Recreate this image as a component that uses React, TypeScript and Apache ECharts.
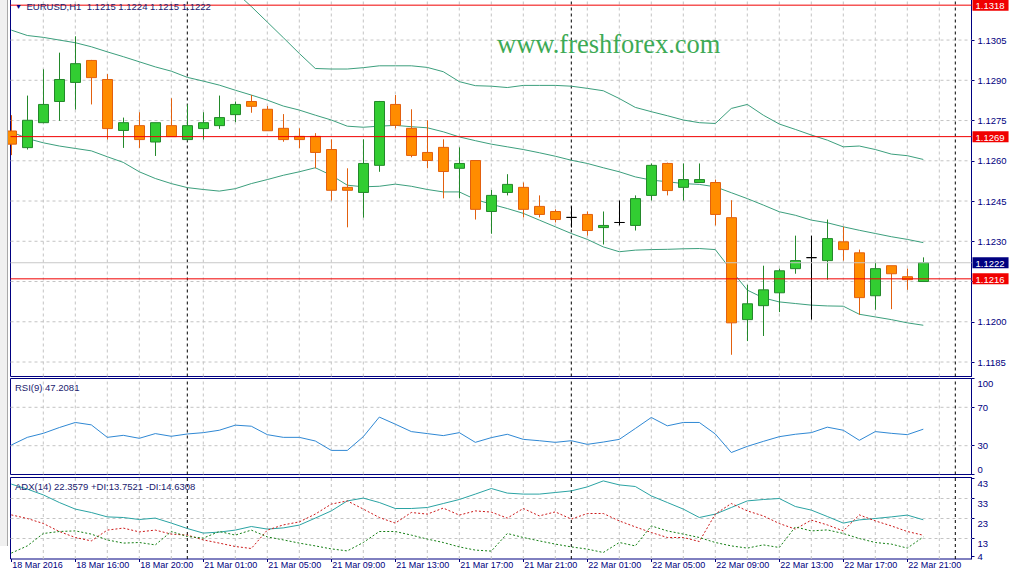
import React, { useEffect, useRef } from "react";
import * as echarts from "echarts";

// ---------- data ----------
const symbolName = "EURUSD,H1";

const timeTickIndex = [0, 4, 8, 12, 16, 20, 24, 28, 32, 36, 40, 44, 48, 52, 56];
const timeTickLabels = [
  "18 Mar 2016", "18 Mar 16:00", "18 Mar 20:00", "21 Mar 01:00", "21 Mar 05:00",
  "21 Mar 09:00", "21 Mar 13:00", "21 Mar 17:00", "21 Mar 21:00", "22 Mar 01:00",
  "22 Mar 05:00", "22 Mar 09:00", "22 Mar 13:00", "22 Mar 17:00", "22 Mar 21:00",
];
const gridColumns = [2, 4, 6, 8, 10, 12, 14, 16, 18, 20, 22, 24, 26, 28, 30, 32, 34, 36, 38, 40, 42, 44, 46, 48, 50, 52, 54, 56, 58];
const daySeparators = [11, 35, 59];

const priceTicks = [1.1185, 1.12, 1.1215, 1.123, 1.1245, 1.126, 1.1275, 1.129, 1.1305];
// 1.1215 is hidden under the 1.1216 level box in the reference
const priceTickLabels = [1.1185, 1.12, 1.123, 1.1245, 1.126, 1.1275, 1.129, 1.1305];
const levelLines = [1.1318, 1.1269, 1.1216];
const bidPrice = 1.1222;
const rsiTicks = [0, 30, 70, 100];
const rsiLevels = [30, 70];
const adxTicks = [4, 13, 23, 33, 43];
const adxLevels = [13, 23, 33];

const open = [
  1.12711, 1.12649, 1.12742, 1.12821, 1.12892, 1.12974, 1.12903, 1.12713, 1.12731, 1.12670,
  1.12731, 1.12679, 1.12720, 1.12731, 1.12772, 1.12821, 1.12792, 1.12721, 1.12691, 1.12691,
  1.12642, 1.12501, 1.12482, 1.12583, 1.12810, 1.12721, 1.12631, 1.12650, 1.12572, 1.12601,
  1.12411, 1.12482, 1.12501, 1.12430, 1.12411, 1.12389, 1.12400, 1.12351, 1.12370, 1.12359,
  1.12471, 1.12590, 1.12501, 1.12519, 1.12519, 1.12388, 1.12008, 1.12060, 1.12108, 1.12198,
  1.12239, 1.12228, 1.12298, 1.12257, 1.12097, 1.12209, 1.12168, 1.1215,
];
const high = [
  1.12770, 1.12843, 1.12941, 1.13003, 1.13064, 1.12976, 1.12923, 1.12761, 1.12781, 1.12742,
  1.12833, 1.12810, 1.12781, 1.12843, 1.12821, 1.12845, 1.12804, 1.12774, 1.12721, 1.12703,
  1.12680, 1.12572, 1.12680, 1.12823, 1.12845, 1.12792, 1.12751, 1.12680, 1.12650, 1.12601,
  1.12491, 1.12550, 1.12519, 1.12471, 1.12419, 1.12430, 1.12411, 1.12411, 1.12452, 1.12471,
  1.12590, 1.12593, 1.12590, 1.12590, 1.12530, 1.12453, 1.12138, 1.12209, 1.12198, 1.12321,
  1.12321, 1.12381, 1.12354, 1.12269, 1.12220, 1.12209, 1.12198, 1.1224,
];
const low = [
  1.12621, 1.12642, 1.12740, 1.12749, 1.12791, 1.12810, 1.12679, 1.12648, 1.12648, 1.12618,
  1.12690, 1.12675, 1.12679, 1.12719, 1.12744, 1.12779, 1.12712, 1.12671, 1.12647, 1.12572,
  1.12452, 1.12352, 1.12388, 1.12559, 1.12721, 1.12613, 1.12572, 1.12460, 1.12460, 1.12381,
  1.12328, 1.12471, 1.12389, 1.12389, 1.12370, 1.12351, 1.12321, 1.12288, 1.12359, 1.12340,
  1.12452, 1.12471, 1.12452, 1.12519, 1.12359, 1.11877, 1.11928, 1.11947, 1.12036, 1.12179,
  1.12008, 1.12157, 1.12228, 1.12026, 1.12045, 1.12047, 1.12119, 1.1215,
];
const close = [
  1.12662, 1.12751, 1.12810, 1.12903, 1.12962, 1.12910, 1.12720, 1.12742, 1.12679, 1.12742,
  1.12690, 1.12731, 1.12742, 1.12761, 1.12810, 1.12803, 1.12712, 1.12679, 1.12679, 1.12631,
  1.12490, 1.12490, 1.12590, 1.12821, 1.12732, 1.12620, 1.12601, 1.12560, 1.12590, 1.12419,
  1.12471, 1.12512, 1.12419, 1.12400, 1.12381, 1.12389, 1.12340, 1.12359, 1.12370, 1.12459,
  1.12583, 1.12489, 1.12530, 1.12530, 1.12400, 1.11996, 1.12067, 1.12119, 1.12190, 1.12228,
  1.12239, 1.12310, 1.12269, 1.12090, 1.12198, 1.12179, 1.12157, 1.1222,
];

const bbUpper = [
  1.13466, 1.13451, 1.13453, 1.13445, 1.13434, 1.13413, 1.13397, 1.13382, 1.13379, 1.13366,
  1.13353, 1.13322, 1.13301, 1.13277, 1.13230, 1.13175, 1.13117, 1.13059, 1.13000, 1.12944,
  1.12942, 1.12942, 1.12947, 1.12954, 1.12954, 1.12954, 1.12948, 1.12932, 1.12895, 1.12880,
  1.12878, 1.12873, 1.12881, 1.12881, 1.12881, 1.12878, 1.12870, 1.12861, 1.12832, 1.12799,
  1.12783, 1.12768, 1.12752, 1.12742, 1.12739, 1.12795, 1.12810, 1.12770, 1.12737, 1.12717,
  1.12696, 1.12677, 1.12652, 1.12655, 1.12642, 1.12625, 1.12619, 1.12605,
];
const bbMiddle = [
  1.13087, 1.13067, 1.13060, 1.13050, 1.13040, 1.13025, 1.13006, 1.12988, 1.12969, 1.12950,
  1.12934, 1.12911, 1.12897, 1.12882, 1.12863, 1.12845, 1.12826, 1.12804, 1.12789, 1.12770,
  1.12752, 1.12729, 1.12725, 1.12729, 1.12732, 1.12727, 1.12723, 1.12708, 1.12689, 1.12675,
  1.12662, 1.12652, 1.12642, 1.12630, 1.12617, 1.12602, 1.12590, 1.12574, 1.12559, 1.12540,
  1.12528, 1.12522, 1.12515, 1.12512, 1.12503, 1.12481, 1.12459, 1.12435, 1.12410, 1.12397,
  1.12379, 1.12369, 1.12354, 1.12341, 1.12329, 1.12317, 1.12307, 1.12295,
];
const bbLower = [
  1.12708, 1.12683, 1.12667, 1.12655, 1.12646, 1.12637, 1.12615, 1.12594, 1.12559, 1.12534,
  1.12515, 1.12500, 1.12493, 1.12487, 1.12496, 1.12515, 1.12530, 1.12546, 1.12559, 1.12574,
  1.12546, 1.12509, 1.12503, 1.12505, 1.12513, 1.12505, 1.12493, 1.12484, 1.12484, 1.12456,
  1.12438, 1.12422, 1.12404, 1.12379, 1.12354, 1.12329, 1.12307, 1.12279, 1.12261, 1.12267,
  1.12269, 1.12270, 1.12272, 1.12273, 1.12269, 1.12192, 1.12118, 1.12089, 1.12074, 1.12068,
  1.12062, 1.12059, 1.12058, 1.12028, 1.12018, 1.12008, 1.11996, 1.11987,
];

const rsi = [
  30.7, 38.7, 42.9, 48.9, 54.2, 51.7, 38.7, 40.8, 37.7, 42.6,
  39.8, 42.2, 43.6, 46.1, 51.4, 50.3, 41.5, 38.7, 38.7, 34.9,
  25.1, 25.1, 39.4, 59.8, 52.4, 44.7, 42.6, 40.5, 43.6, 33.5,
  38.4, 41.9, 36.6, 35.2, 33.5, 35.2, 31.4, 33.8, 36.6, 47.9,
  59.4, 50.7, 54.2, 54.2, 42.2, 22.9, 29.3, 34.5, 39.4, 41.9,
  43.6, 49.3, 46.1, 35.6, 44.7, 42.9, 41.5, 47.2081,
];
const adx = [
  40.2, 37.7, 34.8, 31.0, 27.7, 26.0, 23.8, 23.5, 22.5, 23.2,
  20.7, 18.0, 15.7, 16.2, 17.2, 19.0, 17.7, 18.3, 19.7, 23.2,
  26.8, 31.8, 33.2, 31.0, 28.0, 28.0, 28.5, 30.5, 32.5, 35.2,
  38.0, 35.7, 35.2, 35.2, 36.0, 36.8, 38.8, 41.8, 39.8, 39.0,
  34.3, 31.0, 27.7, 23.5, 25.2, 28.5, 31.8, 32.5, 33.0, 29.0,
  27.2, 24.0, 20.7, 22.3, 23.0, 23.8, 24.7, 22.3579,
];
const plusDI = [
  5.7, 9.3, 15.5, 16.5, 16.8, 15.2, 12.3, 10.7, 11.0, 9.8,
  16.5, 14.0, 13.2, 16.5, 14.7, 17.2, 13.8, 12.3, 10.7, 9.3,
  7.8, 6.8, 11.0, 16.5, 16.5, 14.7, 12.7, 11.0, 8.8, 7.2,
  6.7, 15.5, 13.5, 11.8, 10.2, 8.8, 7.7, 6.0, 11.0, 9.3,
  19.3, 16.8, 15.2, 13.5, 11.0, 9.3, 8.2, 9.8, 8.5, 18.8,
  16.8, 17.3, 15.5, 13.0, 11.0, 10.2, 8.2, 13.7521,
];
const minusDI = [
  24.8, 23.0, 20.5, 16.5, 13.5, 11.8, 17.2, 18.2, 16.3, 17.2,
  15.2, 14.7, 12.3, 10.7, 9.0, 8.0, 17.2, 19.8, 21.3, 25.2,
  30.2, 31.8, 27.7, 23.5, 20.7, 26.0, 25.2, 28.2, 24.7, 26.8,
  26.2, 23.2, 28.0, 24.3, 26.3, 22.7, 25.5, 25.5, 21.8, 18.8,
  16.0, 13.5, 13.5, 11.5, 25.2, 30.5, 26.8, 24.3, 20.5, 17.7,
  22.2, 19.8, 16.8, 24.8, 21.8, 19.3, 16.5, 14.6308,
];

// ---------- layout / styles ----------
const X_MIN = -0.05;
const X_MAX = 60.0125;
const P_MIN = 1.11796;
const P_MAX = 1.13203;
const RSI_MIN = 0;
const RSI_MAX = 100;
const ADX_MIN = 2.75;
const ADX_MAX = 43.5;

const NAVY = "#000080";
const RED = "#f00000";
const GRID_GRAY = "#c4c4c4";
const FONT = '"Liberation Sans", Arial, sans-serif';
const FS = 9.5;

function hSeg(vals: number[]) {
  const out: any[] = [];
  vals.forEach((v) => {
    out.push([X_MIN, v], [X_MAX, v], [X_MAX, "-"]);
  });
  return out;
}
function vSeg(xs: number[], y0: number, y1: number) {
  const out: any[] = [];
  xs.forEach((x) => {
    out.push([x, y0], [x, y1], [x, "-"]);
  });
  return out;
}

function segSeries(k: number, data: any[], color: string, z: number, type: any = [3, 3]) {
  return {
    type: "line",
    xAxisIndex: k,
    yAxisIndex: k,
    data,
    symbol: "none",
    showSymbol: false,
    silent: true,
    connectNulls: false,
    z,
    lineStyle: { color, width: 1, type },
    emphasis: { disabled: true },
  };
}

function gridLayer(k: number, yMin: number, yMax: number, levels: number[]) {
  return [
    segSeries(k, [...hSeg(levels), ...vSeg(gridColumns, yMin, yMax)], GRID_GRAY, 1),
    segSeries(k, vSeg(daySeparators, yMin, yMax), "#000000", 1),
  ];
}

function lineSeries(k: number, arr: number[], color: string, type: any, z = 2) {
  return {
    type: "line",
    xAxisIndex: k,
    yAxisIndex: k,
    data: arr.map((v, i) => [i, v]),
    symbol: "none",
    showSymbol: false,
    silent: true,
    z,
    lineStyle: { color, width: 1, type },
    emphasis: { disabled: true },
  };
}

function buildOption() {
  const last = open.length - 1;
  const header = `${symbolName}  ${open[last].toFixed(4)} ${high[last].toFixed(4)} ${low[last].toFixed(4)} ${close[last].toFixed(4)}`;
  const rsiText = `RSI(9) ${rsi[last].toFixed(4)}`;
  const adxText = `ADX(14) ${adx[last].toFixed(4)} +DI:${plusDI[last].toFixed(4)} -DI:${minusDI[last].toFixed(4)}`;

  const axisFont = { fontFamily: FONT, fontSize: FS, color: NAVY };
  const gridBase = {
    left: 10.5,
    width: 961,
    show: true,
    borderColor: NAVY,
    borderWidth: 1,
    containLabel: false,
    outerBoundsMode: "none",
  };

  const yBase = (
    k: number,
    min: number,
    max: number,
    ticks: number[],
    labels: number[],
    fmt: (v: number) => string,
    extraLabel: any
  ) => ({
    type: "value",
    gridIndex: k,
    position: "right",
    min,
    max,
    axisLine: { show: true, onZero: false, lineStyle: { color: NAVY } },
    axisTick: { show: true, customValues: ticks, length: 3, lineStyle: { color: NAVY } },
    axisLabel: {
      customValues: labels,
      formatter: fmt,
      margin: 6,
      hideOverlap: false,
      showMinLabel: true,
      showMaxLabel: true,
      ...axisFont,
      ...extraLabel,
    },
    splitLine: { show: false },
  });

  const boxStyle = (bg: string) => ({
    backgroundColor: bg,
    color: "#ffffff",
    fontFamily: FONT,
    fontSize: FS,
    lineHeight: 10,
    padding: [1, 4, 0, 3],
  });

  // second price axis carrying the coloured boxes of the level lines and the bid
  const boxAxis = {
    type: "value",
    gridIndex: 0,
    position: "right",
    min: P_MIN,
    max: P_MAX,
    axisLine: { show: false, onZero: false },
    axisTick: { show: false },
    splitLine: { show: false },
    axisLabel: {
      customValues: [...levelLines, bidPrice],
      hideOverlap: false,
      showMinLabel: true,
      showMaxLabel: true,
      margin: 1,
      formatter: (v: number) =>
        Math.abs(v - bidPrice) < 1e-7 ? `{b|${v.toFixed(4)}}` : `{r|${v.toFixed(4)}}`,
      rich: { r: boxStyle(RED), b: boxStyle(NAVY) },
    },
  };

  return {
    animation: false,
    backgroundColor: "#ffffff",
    grid: [
      { ...gridBase, top: -1, height: 377.5 },
      { ...gridBase, top: 378.5, height: 96 },
      { ...gridBase, top: 477.5, height: 81.5 },
    ],
    xAxis: [0, 1, 2].map((k) => ({
      type: "value",
      gridIndex: k,
      min: X_MIN,
      max: X_MAX,
      axisLine: { show: false, onZero: false },
      splitLine: { show: false },
      axisTick:
        k === 2
          ? { show: true, customValues: timeTickIndex, length: 3, lineStyle: { color: NAVY } }
          : { show: false },
      axisLabel:
        k === 2
          ? {
              show: true,
              customValues: timeTickIndex,
              formatter: (v: number) => {
                const j = timeTickIndex.indexOf(Math.round(v));
                return j >= 0 ? timeTickLabels[j] : "";
              },
              align: "left",
              margin: 1,
              padding: [0, 0, 0, 1],
              hideOverlap: false,
              fontFamily: FONT,
              fontSize: 9,
              lineHeight: 10,
              color: NAVY,
            }
          : { show: false },
    })),
    yAxis: [
      yBase(0, P_MIN, P_MAX, priceTicks, priceTickLabels, (v) => v.toFixed(4), {}),
      yBase(1, RSI_MIN, RSI_MAX, rsiTicks, rsiTicks, (v) => String(Math.round(v)), {
        verticalAlignMinLabel: "bottom",
        verticalAlignMaxLabel: "top",
      }),
      yBase(2, ADX_MIN, ADX_MAX, adxTicks, adxTicks, (v) => String(Math.round(v)), {
        verticalAlign: "top",
        verticalAlignMinLabel: "middle",
        verticalAlignMaxLabel: "top",
      }),
      boxAxis,
    ],
    series: [
      ...gridLayer(0, P_MIN, P_MAX, priceTicks),
      ...gridLayer(1, RSI_MIN, RSI_MAX, rsiLevels),
      ...gridLayer(2, ADX_MIN, ADX_MAX, adxLevels),
      lineSeries(0, bbUpper, "#3c9f7d", "solid"),
      lineSeries(0, bbMiddle, "#3c9f7d", "solid"),
      lineSeries(0, bbLower, "#3c9f7d", "solid"),
      {
        type: "candlestick",
        xAxisIndex: 0,
        yAxisIndex: 0,
        data: open.map((o, i) => [i, o, close[i], low[i], high[i]]),
        barWidth: 10,
        z: 3,
        silent: true,
        itemStyle: {
          color: "#32cd32",
          color0: "#ff8c00",
          borderColor: "#23882a",
          borderColor0: "#e2600e",
          borderColorDoji: "#000000",
          borderWidth: 1,
        },
      },
      segSeries(0, hSeg([bidPrice]), "#c8c8c8", 4, "solid"),
      segSeries(0, hSeg(levelLines), RED, 4, "solid"),
      lineSeries(1, rsi, "#2f88d4", "solid"),
      lineSeries(2, adx, "#2aa3a3", "solid"),
      lineSeries(2, minusDI, "#cc1a1a", [2, 2]),
      lineSeries(2, plusDI, "#157f15", [2, 2]),
    ],
    graphic: [
      { type: "rect", silent: true, z: 100, shape: { x: 0, y: 0, width: 8, height: 546 }, style: { fill: "#f0f0f0" } },
      { type: "line", silent: true, z: 101, shape: { x1: 7.5, y1: 0, x2: 7.5, y2: 546 }, style: { stroke: "#a8a8a8", lineWidth: 1 } },
      { type: "text", silent: true, z: 100, x: 15, y: 6, style: { text: "\u25BC", fontSize: 7, fontFamily: FONT, fill: NAVY, verticalAlign: "middle" } },
      { type: "text", silent: true, z: 100, x: 26.5, y: 6, style: { text: header, fontSize: FS, fontFamily: FONT, fill: "#1a1a6e", verticalAlign: "middle" } },
      { type: "text", silent: true, z: 100, x: 497, y: 44, style: { text: "www.freshforex.com", fontSize: 26.5, fontFamily: '"Liberation Serif", "Times New Roman", serif', fill: "#3daa55", verticalAlign: "middle" } },
      { type: "text", silent: true, z: 100, x: 15, y: 387, style: { text: rsiText, fontSize: FS, fontFamily: FONT, fill: "#1a1a6e", verticalAlign: "middle" } },
      { type: "text", silent: true, z: 100, x: 15, y: 486, style: { text: adxText, fontSize: FS, fontFamily: FONT, fill: "#1a1a6e", verticalAlign: "middle" } },
    ],
  };
}

export default function App() {
  const ref = useRef<HTMLDivElement>(null);
  useEffect(() => {
    if (!ref.current) return;
    const chart = echarts.init(ref.current, null, { renderer: "svg" });
    chart.setOption(buildOption() as any);
    return () => chart.dispose();
  }, []);
  return (
    <div
      ref={ref}
      style={{ position: "fixed", left: 0, top: 0, width: 1011, height: 571, background: "#ffffff" }}
    />
  );
}
